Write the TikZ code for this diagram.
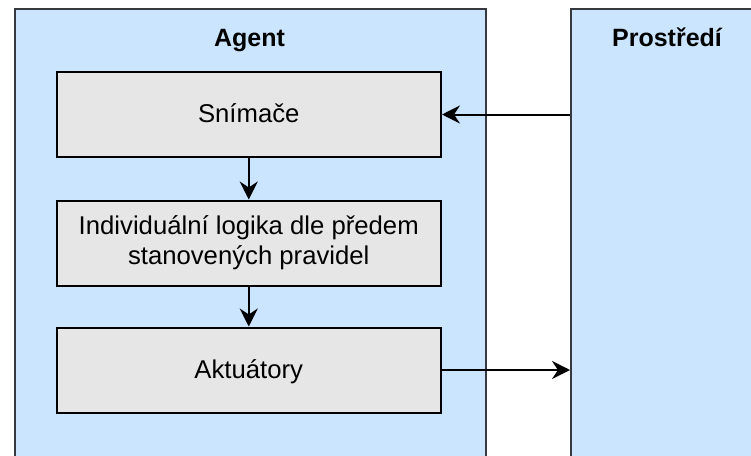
\documentclass[tikz,border=0pt]{standalone}
\usepackage{fontspec}
\setmainfont{Liberation Sans}
\usetikzlibrary{arrows.meta,calc}
\definecolor{panelfill}{HTML}{CCE5FF}
\definecolor{panelline}{HTML}{36393D}
\definecolor{boxfill}{HTML}{E6E6E6}
\tikzset{
  panel/.style={draw=panelline, fill=panelfill, line width=2pt, rectangle, inner sep=0pt},
  title/.style={font=\fontsize{25}{30}\selectfont\bfseries, anchor=base, inner sep=0pt},
  stepbox/.style={draw=black, fill=boxfill, line width=2pt, rectangle, inner sep=0pt,
    minimum width=384.5pt, minimum height=85pt, align=center,
    font=\fontsize{25.7}{30}\selectfont},
  oneline/.style={text height=18pt, text depth=1.6pt},
  flow/.style={line width=2pt, draw=black, -{Stealth[length=18pt,width=18pt,inset=6pt]}}
}
\begin{document}
\begin{tikzpicture}[x=1pt,y=-1pt]
  \useasboundingbox (0,0) rectangle (751,455);
  \clip (0,0) rectangle (751,455);
  % the two panels
  \node[panel, minimum width=471pt, minimum height=470pt, anchor=north west] (agent) at (14,8) {};
  \node[panel, minimum width=194pt, minimum height=470pt, anchor=north west] (env) at (570,8) {};
  \node[title] (agentTitle) at (249.5,46.7) {Agent};
  \node[title] (envTitle) at (667,46.7) {Prostředí};
  % the three stages of the agent
  \node[stepbox, oneline] (sensors) at (248.75,114.5) {Snímače};
  \node[stepbox] (logic) at (248.75,243) {Individuální logika dle předem\\stanovených pravidel};
  \node[stepbox, oneline] (actuators) at (248.75,370) {Aktuátory};
  % connectors
  \draw[flow] (sensors) -- (logic);
  \draw[flow] (logic) -- (actuators);
  \draw[flow] (env.west |- sensors.east) -- (sensors.east);
  \draw[flow] (actuators.east) -- (env.west |- actuators.east);
\end{tikzpicture}
\end{document}
